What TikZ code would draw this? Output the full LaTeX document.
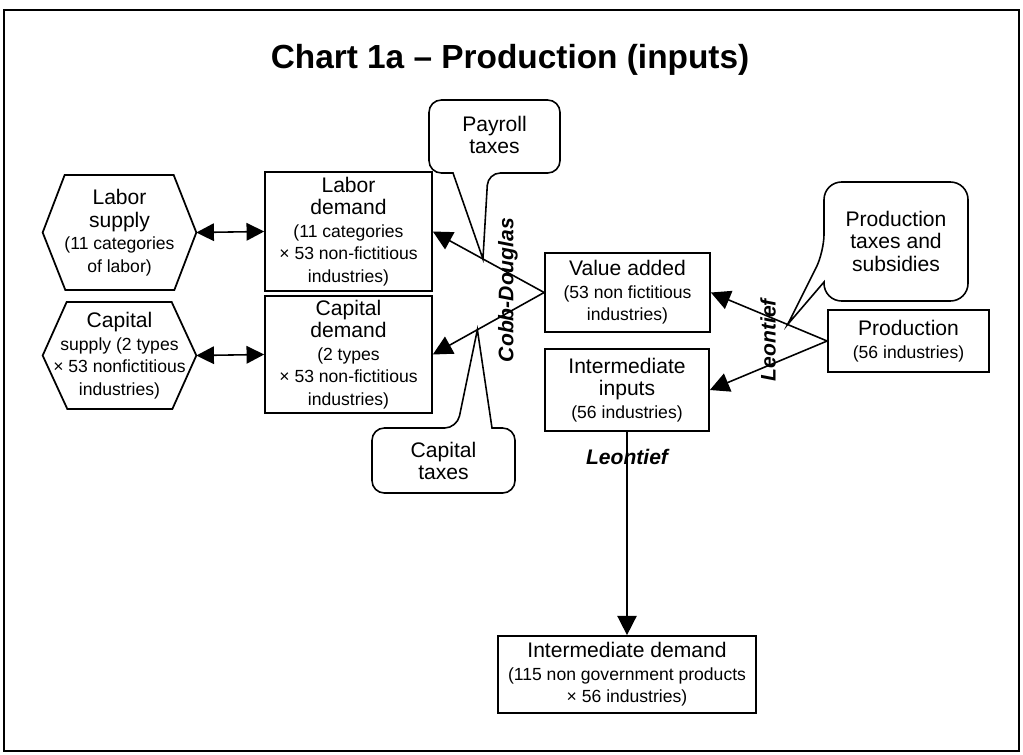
\documentclass[tikz,border=0pt]{standalone}
\usepackage{fontspec}
\setmainfont{Liberation Sans}
\usetikzlibrary{arrows.meta}

\newcommand{\headfont}{\fontsize{12}{12.8}\selectfont}
\newcommand{\smalltxt}{\fontsize{10}{12.8}\selectfont}

\tikzset{
  box/.style={draw, line width=1pt, align=center, inner sep=1pt, font=\headfont},
  hexa/.style={align=center, inner sep=0pt, font=\headfont},
  balloon/.style={draw, line width=0.9pt},
  note/.style={align=center, font=\headfont},
  lbl/.style={font=\bfseries\itshape\fontsize{12}{13}\selectfont},
  arr/.style={line width=0.9pt, -{Triangle[length=11pt,width=11pt]}},
  dbl/.style={line width=0.9pt, {Triangle[length=10pt,width=10pt]}-{Triangle[length=10pt,width=10pt]}}
}

\begin{document}
\begin{tikzpicture}[x=0.02cm, y=-0.02cm]
\useasboundingbox (0,0) rectangle (1023,754);
% frame and title
\draw[line width=1.2pt] (4,10) rectangle (1019,751);
\node[font=\bfseries\fontsize{19}{22}\selectfont] (title) at (510,60) {Chart 1a – Production (inputs)};

% supply side (hexagons)
\node[hexa, minimum width=3.06cm, minimum height=2.3cm] (lsup) at (119.5,232.5) {Labor\\supply\\\smalltxt (11 categories\\\smalltxt of labor)};
\draw[line width=1pt] (lsup.west) -- ++(22,-57.5) -- ++(109,0) -- (lsup.east) -- ++(-22,57.5) -- ++(-109,0) -- cycle;
\node[hexa, minimum width=3.06cm, minimum height=2.14cm] (csup) at (119.5,355.5) {Capital\\\smalltxt supply (2 types\\\smalltxt × 53 nonfictitious\\\smalltxt industries)};
\draw[line width=1pt] (csup.west) -- ++(24,-53.5) -- ++(105,0) -- (csup.east) -- ++(-24,53.5) -- ++(-105,0) -- cycle;

% demand boxes
\node[box, minimum width=3.34cm, minimum height=2.38cm] (ldem) at (348.5,231.5) {Labor\\demand\\\smalltxt (11 categories\\\smalltxt × 53 non-fictitious\\\smalltxt industries)};
\node[box, minimum width=3.34cm, minimum height=2.34cm] (cdem) at (348.5,354.5) {Capital\\demand\\\smalltxt (2 types\\\smalltxt × 53 non-fictitious\\\smalltxt industries)};

% value added, intermediate inputs, production
\node[box, minimum width=3.3cm, minimum height=1.58cm] (vadd) at (627.5,292.5) {Value added\\\smalltxt (53 non fictitious\\\smalltxt industries)};
\node[box, minimum width=3.28cm, minimum height=1.64cm] (iinp) at (627,390) {Intermediate\\inputs\\\smalltxt (56 industries)};
\node[box, minimum width=3.22cm, minimum height=1.24cm] (prod) at (908.5,341) {Production\\\smalltxt (56 industries)};
\node[box, minimum width=5.16cm, minimum height=1.54cm] (idem) at (627,674.5) {Intermediate demand\\\smalltxt (115 non government products\\\smalltxt × 56 industries)};

% connectors
\draw[dbl] (lsup.east) -- (ldem.west);
\draw[dbl] (csup.east) -- (cdem.west);
\draw[arr] (vadd.west) -- coordinate[pos=0.55] (paytip) (ldem.east);
\draw[arr] (vadd.west) -- coordinate[pos=0.6] (captip) (cdem.east);
\draw[arr] (prod.west) -- coordinate[pos=0.34] (prodtip) (vadd.east);
\draw[arr] (prod.west) -- (iinp.east);
\draw[arr] (iinp.south) -- (idem.north);

% function labels
\node[lbl, rotate=90] (cobb) at (508,290) {Cobb-Douglas};
\node[lbl, rotate=90] (leonA) at (768,340) {Leontief};
\node[lbl] (leonB) at (627,457) {Leontief};

% tax balloons
\draw[balloon] (paytip) -- (453,173) [rounded corners=7pt] -- (429,173) -- (429,100) -- (560,100) -- (560,173) -- (488,173) [sharp corners] -- cycle;
\node[note] (payroll) at (494.5,135) {Payroll\\taxes};
\draw[balloon] (captip) -- (492,428) [rounded corners=7pt] -- (515,428) -- (515,493) -- (372,493) -- (372,428) -- (457,428) [sharp corners] -- cycle;
\node[note] (captax) at (443.5,461) {Capital\\taxes};
\draw[balloon] (prodtip) -- (824,282) [rounded corners=10pt] -- (824,301) -- (968,301) -- (968,182) -- (824,182) -- (824,252) [sharp corners] -- cycle;
\node[note] (prodtax) at (896,241) {Production\\taxes and\\subsidies};
\end{tikzpicture}
\end{document}
